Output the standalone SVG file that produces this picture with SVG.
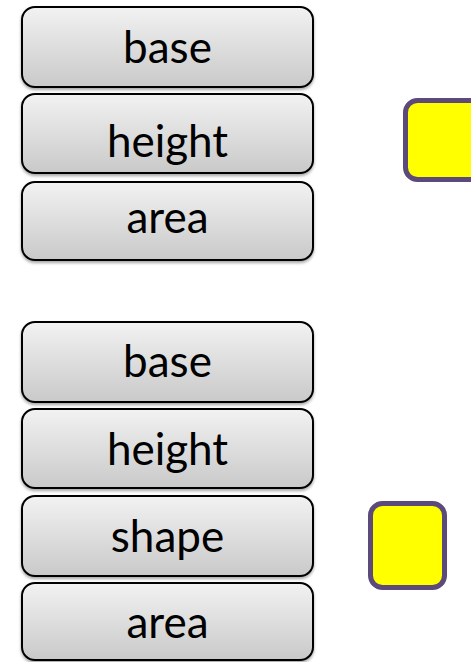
<svg xmlns="http://www.w3.org/2000/svg" width="471" height="662" viewBox="0 0 471 662">
<style>
.box{fill:url(#g);stroke:#000;stroke-width:2}
.lbl{font-family:Lato,"Open Sans",sans-serif;font-size:44px;fill:#000;text-anchor:middle}
.sq{fill:#ffff00;stroke:#5c4a7a;stroke-width:5}
</style>
<defs>
<linearGradient id="g" x1="0" y1="0" x2="0" y2="1">
<stop offset="0" stop-color="#f2f2f2"/>
<stop offset="1" stop-color="#c9c9c9"/>
</linearGradient>
<filter id="sh" x="-5%" y="-5%" width="110%" height="120%">
<feDropShadow dx="0" dy="2" stdDeviation="1.5" flood-color="#000" flood-opacity="0.35"/>
</filter>
</defs>
<g id="top-base"><rect class="box" filter="url(#sh)" x="22" y="7" width="291" height="80" rx="13"/><text class="lbl" x="167.5" y="63">base</text></g>
<g id="top-height"><rect class="box" filter="url(#sh)" x="22" y="94" width="291" height="79" rx="13"/><text class="lbl" x="167.5" y="157">height</text></g>
<g id="top-area"><rect class="box" filter="url(#sh)" x="22" y="182" width="291" height="78" rx="13"/><text class="lbl" x="167.5" y="233">area</text></g>
<g id="top-square"><rect class="sq" x="405.5" y="100.5" width="79" height="79" rx="12"/></g>
<g id="bot-base"><rect class="box" filter="url(#sh)" x="22" y="322" width="291" height="80" rx="13"/><text class="lbl" x="167.5" y="377">base</text></g>
<g id="bot-height"><rect class="box" filter="url(#sh)" x="22" y="409" width="291" height="79" rx="13"/><text class="lbl" x="167.5" y="465">height</text></g>
<g id="bot-shape"><rect class="box" filter="url(#sh)" x="22" y="496" width="291" height="80" rx="13"/><text class="lbl" x="167.5" y="552">shape</text></g>
<g id="bot-area"><rect class="box" filter="url(#sh)" x="22" y="583" width="291" height="77" rx="13"/><text class="lbl" x="167.5" y="638">area</text></g>
<g id="bot-square"><rect class="sq" x="370.5" y="503.5" width="74" height="84" rx="12"/></g>
<g id="connectors"/>
</svg>
